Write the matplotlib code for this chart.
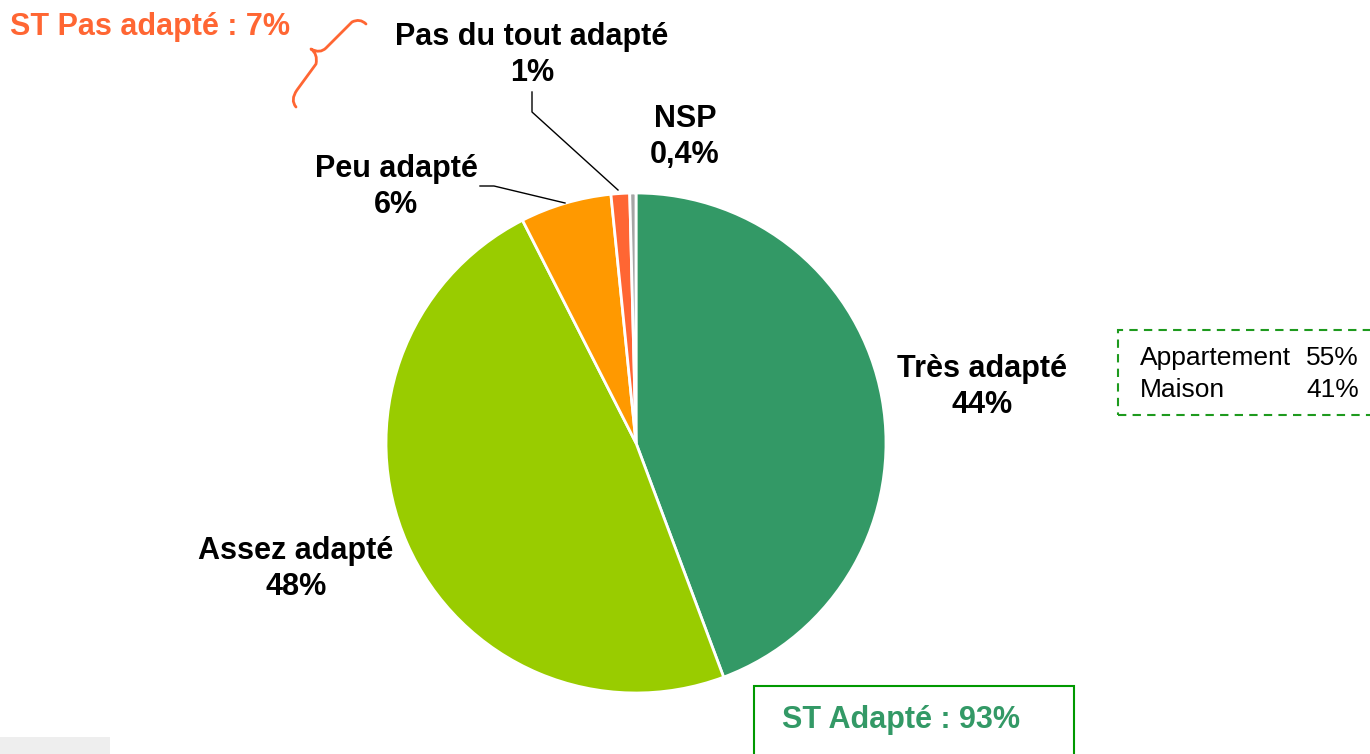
import matplotlib
matplotlib.use("Agg")
import matplotlib.pyplot as plt
from matplotlib.path import Path
from matplotlib.patches import PathPatch, Rectangle

plt.rcParams['font.family'] = ['Liberation Sans', 'DejaVu Sans']

# données (sens horaire depuis le haut)
categories = ["Très adapté", "Assez adapté", "Peu adapté", "Pas du tout adapté", "NSP"]
values = [44.3, 48.2, 5.9, 1.2, 0.4]
value_labels = ["44%", "48%", "6%", "1%", "0,4%"]
colors = ["#339966", "#99CC00", "#FF9900", "#FF6633", "#A6A6A6"]

st_pas = "ST Pas adapté : 7%"
st_adapte = "ST Adapté : 93%"
detail_names = ["Appartement", "Maison"]
detail_values = ["55%", "41%"]

W, H = 1370, 754
fig = plt.figure(figsize=(13.7, 7.54), dpi=100)
ax = fig.add_axes([0, 0, 1, 1])


def Y(y):
    # coordonnées en pixels depuis le haut
    return H - y


ax.pie(values, colors=colors, startangle=90, counterclock=False,
       center=(636, Y(443)), radius=250,
       wedgeprops=dict(edgecolor="white", linewidth=2))

# étiquettes
label_pos = [(982, 387), (296, 569), (396, 187), (532, 55), (685, 137)]
for name, val, (x, y) in zip(categories, value_labels, label_pos):
    ax.text(x, Y(y), f"{name}\n{val}", ha="center", va="center",
            fontsize=22, fontweight="bold", linespacing=1.3, color="black")

# lignes de rappel
ax.plot([480, 494, 565], [Y(186), Y(186), Y(203)], color="black", lw=1)
ax.plot([532, 532, 618], [Y(92), Y(112), Y(190)], color="black", lw=1)

# sous-total "pas adapté" et accolade
ax.text(10, Y(27), st_pas, ha="left", va="center", fontsize=22,
        fontweight="bold", color="#FF6633")
brace = Path(
    [(366, 24), (360, 18), (352, 22),
     (326, 48),
     (320, 54), (311, 49),
     (318, 54), (316, 64),
     (297, 90),
     (290, 100), (296, 107)],
    [Path.MOVETO, Path.CURVE3, Path.CURVE3,
     Path.LINETO,
     Path.CURVE3, Path.CURVE3,
     Path.CURVE3, Path.CURVE3,
     Path.LINETO,
     Path.CURVE3, Path.CURVE3])
brace = Path([(x, Y(y)) for x, y in brace.vertices], brace.codes)
ax.add_patch(PathPatch(brace, fill=False, edgecolor="#FF6633", lw=2,
                       capstyle="round", joinstyle="round"))

# encadré détail
ax.add_patch(Rectangle((1118, Y(415)), 260, 85, fill=False,
                       edgecolor="#1E9A1E", lw=1.5, ls=(0, (4, 3))))
for i, (n, v) in enumerate(zip(detail_names, detail_values)):
    yy = Y(358 + 32 * i)
    ax.text(1140, yy, n, ha="left", va="center", fontsize=19, color="black")
    ax.text(1359, yy, v, ha="right", va="center", fontsize=19, color="black")

# encadré sous-total adapté
ax.add_patch(Rectangle((754, Y(770)), 320, 84, fill=False,
                       edgecolor="#009900", lw=1.5))
ax.text(782, Y(720), st_adapte, ha="left", va="center", fontsize=22,
        fontweight="bold", color="#339966")

ax.add_patch(Rectangle((0, 0), 110, 17, facecolor="#EEEEEE", edgecolor="none"))

ax.set_xlim(0, W)
ax.set_ylim(0, H)
ax.set_aspect("equal")
ax.axis("off")

fig.savefig("out.png", dpi=100)
